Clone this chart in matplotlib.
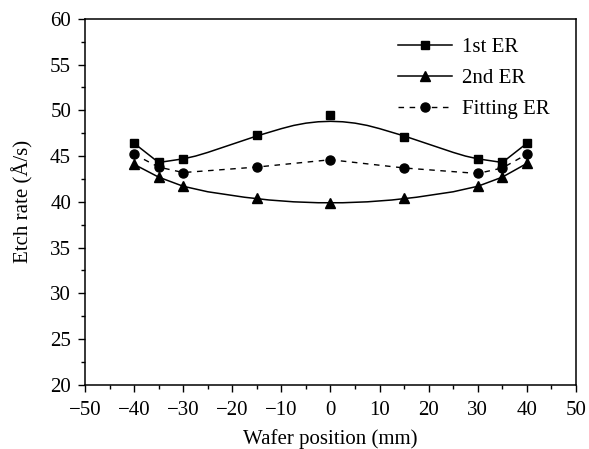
import matplotlib
matplotlib.use('Agg')
import matplotlib.pyplot as plt
from matplotlib.ticker import MultipleLocator

plt.rcParams['font.family'] = ['Liberation Serif', 'DejaVu Serif']

# measured points
positions = [-40, -35, -30, -15, 0, 15, 30, 35, 40]
er_first = [46.4, 44.3, 44.7, 47.3, 49.5, 47.1, 44.7, 44.3, 46.4]
er_second = [44.1, 42.7, 41.7, 40.4, 39.9, 40.4, 41.7, 42.7, 44.2]
er_fitting = [45.2, 43.8, 43.2, 43.8, 44.6, 43.7, 43.1, 43.7, 45.2]

# smooth guide lines
curve_x = [-40, -35, -30, -27.5, -25, -22.5, -20, -17.5, -15, -12.5, -10, -7.5, -5, -2.5, 0,
           2.5, 5, 7.5, 10, 12.5, 15, 17.5, 20, 22.5, 25, 27.5, 30, 35, 40]
curve_first = [46.4, 44.3, 44.7, 45.0, 45.4, 45.85, 46.3, 46.75, 47.2, 47.6, 48.0, 48.35, 48.6, 48.75, 48.8,
               48.75, 48.6, 48.35, 48.0, 47.6, 47.2, 46.75, 46.3, 45.85, 45.4, 45.0, 44.7, 44.3, 46.4]
curve_second = [44.1, 42.7, 41.7, 41.4, 41.1, 40.9, 40.7, 40.5, 40.35, 40.2, 40.1, 40.0, 39.95, 39.9, 39.9,
                39.9, 39.95, 40.0, 40.1, 40.2, 40.35, 40.5, 40.7, 40.9, 41.1, 41.4, 41.7, 42.7, 44.2]

fig = plt.figure(figsize=(5.89, 4.49), dpi=100)
ax = fig.add_axes([0.1443, 0.143, 0.8336, 0.815])

ax.plot(curve_x, curve_first, color='black', lw=1.1)
ax.plot(curve_x, curve_second, color='black', lw=1.1)
ax.plot(positions, er_fitting, color='black', lw=1.0, ls=(0, (4, 4)))

ax.plot(positions, er_first, ls='none', marker='s', ms=6, color='black')
ax.plot(positions, er_second, ls='none', marker='^', ms=7, color='black')
ax.plot(positions, er_fitting, ls='none', marker='o', ms=6.5, color='black')

# legend handles
h1, = ax.plot([], [], color='black', lw=1.1, marker='s', ms=6, label='1st ER')
h2, = ax.plot([], [], color='black', lw=1.1, marker='^', ms=7, label='2nd ER')
h3, = ax.plot([], [], color='black', lw=1.0, ls=(0, (4, 4)), marker='o', ms=6.5, label='Fitting ER')
ax.legend(handles=[h1, h2, h3], loc='upper right', frameon=False, fontsize=15,
          handlelength=2.6, handletextpad=0.5, labelspacing=0.55, bbox_to_anchor=(0.985, 1.0))

ax.set_xlim(-50, 50)
ax.set_ylim(20, 60)
ax.xaxis.set_major_locator(MultipleLocator(10))
ax.xaxis.set_minor_locator(MultipleLocator(5))
ax.yaxis.set_major_locator(MultipleLocator(5))
ax.yaxis.set_minor_locator(MultipleLocator(2.5))
ax.tick_params(which='major', direction='out', length=5, width=1, labelsize=15, colors='black')
ax.tick_params(axis='x', which='major', pad=7)
ax.tick_params(axis='y', which='major', pad=5)
ax.tick_params(which='minor', direction='out', length=3, width=1)
for s in ax.spines.values():
    s.set_linewidth(1.1)

ax.set_xlabel('Wafer position (mm)', fontsize=15, labelpad=6)
ax.set_ylabel('Etch rate (\u00c5/s)', fontsize=15, labelpad=12)

fig.savefig('out.png', dpi=100)
